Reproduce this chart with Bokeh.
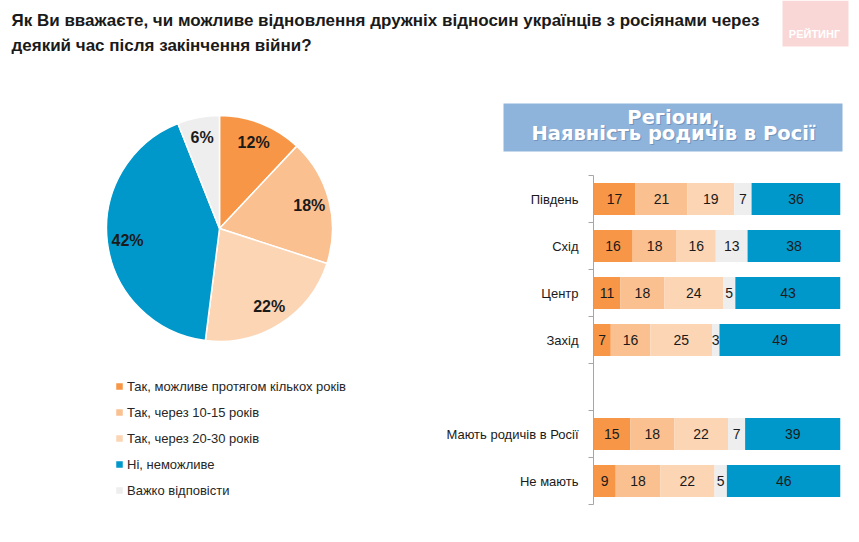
import numpy as np
from bokeh.plotting import figure
from bokeh.models import ColumnDataSource, Range1d, FixedTicker, Legend, LegendItem
from bokeh.layouts import column, row
from bokeh.embed import file_html
from bokeh.resources import INLINE
from bokeh.core.properties import value

# ---------------- data ----------------
TITLE_LINES = [
    "Як Ви вважаєте, чи можливе відновлення дружніх відносин українців з росіянами через",
    "деякий час після закінчення війни?",
]
LOGO_TEXT = "РЕЙТИНГ"
ANSWERS = [
    "Так, можливе протягом кількох років",
    "Так, через 10-15 років",
    "Так, через 20-30 років",
    "Ні, неможливе",
    "Важко відповісти",
]
PIE_VALUES = [12, 18, 22, 42, 6]
COLORS = ["#F79646", "#FAC090", "#FCD5B5", "#0098CA", "#EEEEEE"]

HEADER_LINES = ["Регіони,", "Наявність родичів в Росії"]
SLOT_LABELS = ["Південь", "Схід", "Центр", "Захід", "", "Мають родичів в Росії", "Не мають"]
GROUP_SLOTS = [0, 1, 2, 3, 5, 6]
BAR_SOON = [17, 16, 11, 7, 15, 9]
BAR_10_15 = [21, 18, 18, 16, 18, 18]
BAR_20_30 = [19, 16, 24, 25, 22, 22]
BAR_HARD = [7, 13, 5, 3, 7, 5]
BAR_NO = [36, 38, 43, 49, 39, 46]
BAR_SERIES = [BAR_SOON, BAR_10_15, BAR_20_30, BAR_HARD, BAR_NO]
BAR_COLORS = [COLORS[0], COLORS[1], COLORS[2], COLORS[4], COLORS[3]]

FONT = value("Liberation Sans")
TXT = "#1a1a1a"


def blank(p):
    p.outline_line_color = None
    p.grid.visible = False
    p.background_fill_color = "white"
    p.border_fill_color = "white"
    p.frame_align = False
    return p


# ---------------- title ----------------
TW, TH = 851, 90
title_fig = blank(figure(width=TW, height=TH, x_range=Range1d(0, TW), y_range=Range1d(TH, 0),
                         output_backend="svg", toolbar_location=None, min_border=0,
                         x_axis_location=None, y_axis_location=None))
title_fig.text(x=[11, 11], y=[20, 45], text=TITLE_LINES, text_font=FONT, text_font_style="bold",
               text_font_size="17px", text_color=TXT, text_baseline="middle")
title_fig.quad(left=782, right=848, top=0, bottom=46, fill_color="#F9D7D7", line_color=None)
title_fig.text(x=[814], y=[33], text=[LOGO_TEXT], text_font=FONT, text_font_style="bold",
               text_font_size="11px", text_color="white", text_align="center", text_baseline="middle")

# ---------------- pie ----------------
LW, LH = 438, 444
R = 113.0
CX, CY = 219.0, 138.0
left = blank(figure(width=LW, height=LH,
                    x_range=Range1d(-CX / R, (LW - CX) / R),
                    y_range=Range1d(-(LH - CY) / R, CY / R),
                    output_backend="svg", toolbar_location=None, min_border=0,
                    x_axis_location=None, y_axis_location=None))
vals = np.array(PIE_VALUES, dtype=float)
fr = vals / vals.sum()
cum = np.concatenate([[0.0], np.cumsum(fr)])
start = np.pi / 2 - cum[:-1] * 2 * np.pi
end = np.pi / 2 - cum[1:] * 2 * np.pi
pie_src = ColumnDataSource(dict(start=start, end=end, color=COLORS, label=ANSWERS))
wedges = left.wedge(x=0, y=0, radius=1, start_angle="start", end_angle="end", direction="clock",
                    fill_color="color", line_color="white", line_width=1.5, source=pie_src)
mid = np.pi / 2 - (cum[:-1] + fr / 2) * 2 * np.pi
left.text(x=0.82 * np.cos(mid), y=0.82 * np.sin(mid), text=[f"{v}%" for v in PIE_VALUES],
          text_font=FONT, text_font_style="bold", text_font_size="16px", text_color=TXT,
          text_align="center", text_baseline="middle")

legend = Legend(items=[LegendItem(label=a, renderers=[wedges], index=i) for i, a in enumerate(ANSWERS)],
                location=(114, 34), orientation="vertical",
                label_text_font="Liberation Sans", label_text_font_size="13px", label_text_color="#262626",
                glyph_width=10, glyph_height=10, label_standoff=3, label_height=20, spacing=6,
                padding=0, margin=0, border_line_color=None, background_fill_alpha=0)
left.add_layout(legend)

# ---------------- header box ----------------
RW = 413
HH = 70
header = blank(figure(width=RW, height=HH, x_range=Range1d(0, RW), y_range=Range1d(HH, 0),
                      output_backend="svg", toolbar_location=None, min_border=0,
                      x_axis_location=None, y_axis_location=None))
header.quad(left=65, right=404, top=13, bottom=61, fill_color="#8EB4DC", line_color=None)
header.text(x=[235, 235], y=[27, 43], text=HEADER_LINES, text_font=value("DejaVu Sans"),
            text_font_style="bold", text_font_size="19.5px", text_color="#7293BB",
            text_align="center", text_baseline="middle", x_offset=1, y_offset=1)
header.text(x=[235, 235], y=[27, 43], text=HEADER_LINES, text_font=value("DejaVu Sans"),
            text_font_style="bold", text_font_size="19.5px", text_color="white",
            text_align="center", text_baseline="middle")

# ---------------- stacked bars ----------------
BH = LH - HH
bar = figure(width=RW, height=BH, x_range=Range1d(0, 100), y_range=Range1d(6.5, -0.5),
             output_backend="svg", toolbar_location=None, x_axis_location=None,
             min_border_left=155, min_border_right=11, min_border_top=15, min_border_bottom=30)
blank(bar)

data = np.array(BAR_SERIES, dtype=float)  # series x groups
norm = data / data.sum(axis=0) * 100.0
lefts = np.vstack([np.zeros(norm.shape[1]), np.cumsum(norm, axis=0)[:-1]])
rights = lefts + norm
ys, ls, rs, cs, ms, ts = [], [], [], [], [], []
for k in range(norm.shape[0]):
    for g in range(norm.shape[1]):
        ys.append(GROUP_SLOTS[g]); ls.append(lefts[k, g]); rs.append(rights[k, g])
        cs.append(BAR_COLORS[k]); ms.append((lefts[k, g] + rights[k, g]) / 2)
        ts.append(str(BAR_SERIES[k][g]))
bsrc = ColumnDataSource(dict(y=ys, left=ls, right=rs, color=cs, mid=ms, txt=ts))
bar.hbar(y="y", left="left", right="right", height=0.68, fill_color="color", line_color=None, source=bsrc)
bar.text(x="mid", y="y", text="txt", text_font=FONT, text_font_size="14px", text_color=TXT,
         text_align="center", text_baseline="middle", source=bsrc)

ax = bar.yaxis[0]
ax.ticker = FixedTicker(ticks=list(range(len(SLOT_LABELS))),
                        minor_ticks=[i - 0.5 for i in range(len(SLOT_LABELS) + 1)])
ax.major_label_overrides = {i: s for i, s in enumerate(SLOT_LABELS)}
ax.major_tick_line_color = None
ax.major_tick_out = 0
ax.major_tick_in = 0
ax.minor_tick_out = 5
ax.minor_tick_in = 0
ax.minor_tick_line_color = "#A6A6A6"
ax.axis_line_color = "#A6A6A6"
ax.major_label_standoff = 10
ax.major_label_text_font = "Liberation Sans"
ax.major_label_text_font_size = "13px"
ax.major_label_text_color = TXT

layout = column(title_fig, row(left, column(header, bar)))
open("out.html", "w").write(file_html(layout, INLINE))
